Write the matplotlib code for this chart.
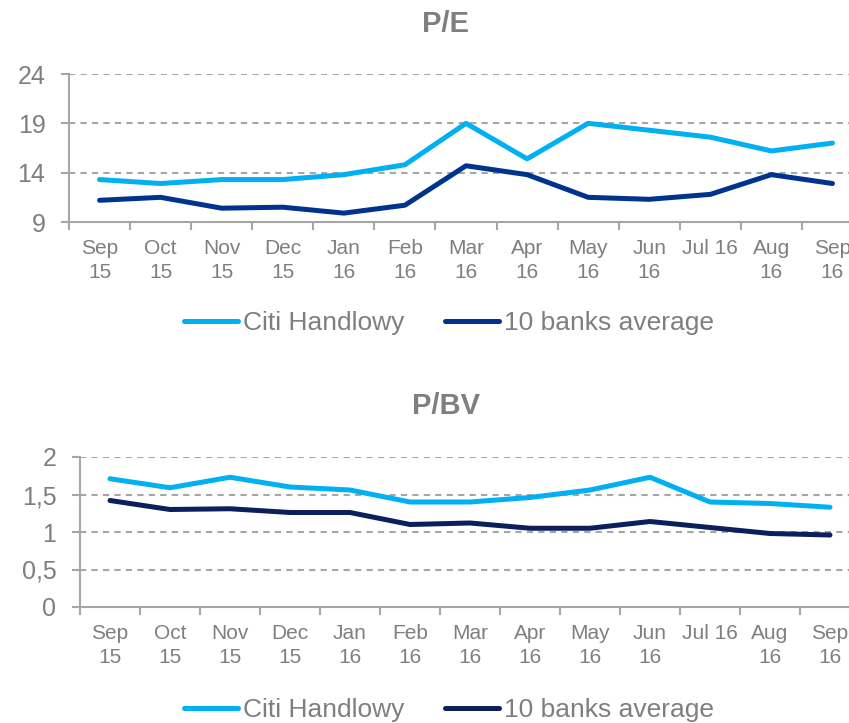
import matplotlib
matplotlib.use('Agg')
import matplotlib.pyplot as plt
from matplotlib.ticker import FixedLocator, FuncFormatter

plt.rcParams['font.family'] = ['Liberation Sans', 'DejaVu Sans']

# miesiace
months = ['Sep\n15', 'Oct\n15', 'Nov\n15', 'Dec\n15', 'Jan\n16', 'Feb\n16', 'Mar\n16',
          'Apr\n16', 'May\n16', 'Jun\n16', 'Jul 16', 'Aug\n16', 'Sep\n16']

# P/E
pe_citi = [13.3, 12.9, 13.3, 13.3, 13.8, 14.8, 19.0, 15.4, 19.0, 18.3, 17.6, 16.2, 17.0]
pe_banks = [11.2, 11.5, 10.4, 10.5, 9.9, 10.7, 14.7, 13.8, 11.5, 11.3, 11.8, 13.8, 12.9]

# P/BV
pbv_citi = [1.71, 1.59, 1.73, 1.60, 1.56, 1.40, 1.40, 1.46, 1.56, 1.73, 1.40, 1.38, 1.33]
pbv_banks = [1.42, 1.30, 1.31, 1.26, 1.26, 1.10, 1.12, 1.05, 1.05, 1.14, 1.06, 0.98, 0.96]

light = '#00b0f0'
gray = '#7f7f7f'
grid_c = '#a6a6a6'


def style_axis(ax, yticks, fmt):
    x = range(len(months))
    ax.set_xlim(-0.5, len(months) - 0.5)
    ax.set_xticks(list(x))
    ax.set_xticklabels(months, fontsize=15, color=gray, linespacing=1.35)
    ax.tick_params(axis='x', which='major', length=0, pad=12)
    ax.xaxis.set_minor_locator(FixedLocator([i - 0.5 for i in range(len(months) + 1)]))
    ax.tick_params(axis='x', which='minor', length=6, width=1.5, color=grid_c)
    ax.set_yticks(yticks)
    ax.set_ylim(yticks[0], yticks[-1])
    ax.yaxis.set_major_formatter(FuncFormatter(fmt))
    ax.tick_params(axis='y', labelsize=18, labelcolor=gray, length=6, width=1.5,
                   color=grid_c, pad=11)
    for t in yticks[1:]:
        ax.axhline(t, color=grid_c, lw=1.5, ls=(0, (3, 2.5)), zorder=1)
    for s in ['top', 'right']:
        ax.spines[s].set_visible(False)
    for s in ['left', 'bottom']:
        ax.spines[s].set_color(grid_c)
        ax.spines[s].set_linewidth(1.5)


fig = plt.figure(figsize=(8.49, 7.23), dpi=100)

ax1 = fig.add_axes([69 / 849, 1 - 222 / 723, 794 / 849, 148 / 723])
ax1.plot(pe_citi, color=light, lw=3.6, solid_capstyle='round', label='Citi Handlowy', zorder=3)
ax1.plot(pe_banks, color='#00338d', lw=3.6, solid_capstyle='round', label='10 banks average', zorder=3)
style_axis(ax1, [9, 14, 19, 24], lambda v, p: '%d' % v)

ax2 = fig.add_axes([80 / 849, 1 - 607 / 723, 780 / 849, 150 / 723])
ax2.plot(pbv_citi, color=light, lw=3.6, solid_capstyle='round', label='Citi Handlowy', zorder=3)
ax2.plot(pbv_banks, color='#0b1f5c', lw=3.6, solid_capstyle='round', label='10 banks average', zorder=3)
style_axis(ax2, [0, 0.5, 1, 1.5, 2], lambda v, p: ('%g' % v).replace('.', ','))

fig.text(446 / 849, 1 - 24 / 723, 'P/E', ha='center', va='center', fontsize=21,
         fontweight='bold', color=gray)
fig.text(446 / 849, 1 - 406 / 723, 'P/BV', ha='center', va='center', fontsize=21,
         fontweight='bold', color=gray)

for ax, yc in [(ax1, 323), (ax2, 710)]:
    leg = ax.legend(loc='center', bbox_to_anchor=(449 / 849, 1 - yc / 723),
                    bbox_transform=fig.transFigure, ncol=2, frameon=False,
                    fontsize=19, handlelength=2.05, handletextpad=0.19,
                    columnspacing=1.55, borderaxespad=0, borderpad=0)
    for t in leg.get_texts():
        t.set_color(gray)

fig.savefig('out.png', dpi=100)
